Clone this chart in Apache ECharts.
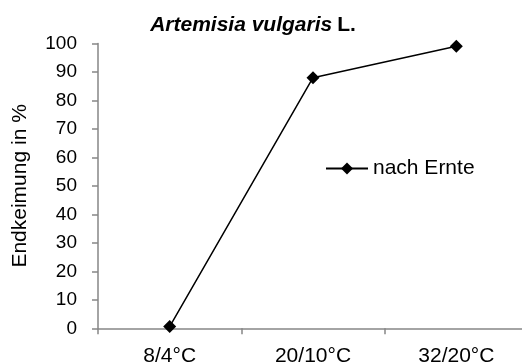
<!DOCTYPE html>
<html>
<head>
<meta charset="utf-8">
<script src="https://cdn.jsdelivr.net/npm/echarts@6/dist/echarts.min.js"></script>
<style>
html,body{margin:0;padding:0;background:#fff;}
#c{width:522px;height:364px;}
</style>
</head>
<body>
<div id="c"></div>
<script>
const categories = ['8/4°C', '20/10°C', '32/20°C'];
const seriesName = 'nach Ernte';
const values = [0.6, 88, 99];
const yTicks = {min: 0, max: 100, interval: 10};

const font = 'Liberation Sans, Arial, sans-serif';
const chart = echarts.init(document.getElementById('c'), null, {renderer: 'canvas'});
chart.setOption({
  animation: false,
  backgroundColor: '#fff',
  title: {
    text: '{i|Artemisia vulgaris} {b|L.}',
    left: 248, top: 10, textAlign: 'center',
    textStyle: {
      rich: {
        i: {fontFamily: font, fontSize: 21, fontWeight: 'bold', fontStyle: 'italic', color: '#000'},
        b: {fontFamily: font, fontSize: 21, fontWeight: 'bold', color: '#000'}
      }
    }
  },
  legend: {
    data: [seriesName],
    left: 320, top: 153,
    itemWidth: 42, itemHeight: 15,
    itemGap: 5,
    textStyle: {fontFamily: font, fontSize: 21, color: '#000'}
  },
  grid: {left: 98, top: 43.5, width: 430, bottom: 35.7, containLabel: false, outerBoundsMode: 'none'},
  xAxis: {
    type: 'category',
    data: categories,
    boundaryGap: true,
    axisLine: {lineStyle: {color: '#868686', width: 1.5}},
    axisTick: {show: true, length: 6, interval: 0, lineStyle: {color: '#868686', width: 1.5}},
    axisLabel: {fontFamily: font, fontSize: 21, color: '#000', margin: 17, interval: 0},
    splitLine: {show: false}
  },
  yAxis: {
    type: 'value',
    min: yTicks.min, max: yTicks.max, interval: yTicks.interval,
    name: 'Endkeimung in %',
    nameLocation: 'middle',
    nameGap: 67,
    nameTextStyle: {fontFamily: font, fontSize: 21, color: '#000'},
    axisLine: {show: true, lineStyle: {color: '#868686', width: 1.5}},
    axisTick: {show: true, length: 6, lineStyle: {color: '#868686', width: 1.5}},
    axisLabel: {fontFamily: font, fontSize: 19, color: '#000', margin: 21},
    splitLine: {show: false}
  },
  series: [{
    name: seriesName,
    type: 'line',
    data: values,
    symbol: 'diamond',
    symbolSize: 13,
    lineStyle: {color: '#000', width: 1.5},
    itemStyle: {color: '#000'},
    color: '#000'
  }]
});
</script>
</body>
</html>
